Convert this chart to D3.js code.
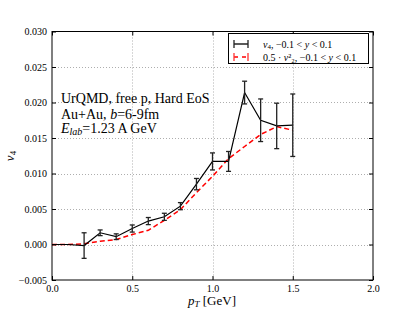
<!DOCTYPE html>
<html><head><meta charset="utf-8">
<script src="https://cdn.jsdelivr.net/npm/d3@7"></script>
<style>body{margin:0;background:#fff}svg{display:block}text{font-family:"Liberation Serif","DejaVu Serif",serif}</style>
</head><body><svg id="c" width="415" height="312"></svg>
<script>
const pt = [0.0,0.1,0.2,0.3,0.4,0.5,0.6,0.7,0.8,0.9,1.0,1.1,1.2,1.3,1.4,1.5];
const v4 = [0,0,-0.00015,0.00165,0.0011,0.00225,0.0033,0.0039,0.0054,0.0085,0.0117,0.0117,0.0214,0.0175,0.0167,0.0168];
const v4err = [0,0,0.0018,0.0004,0.0004,0.0005,0.0005,0.0005,0.0005,0.0008,0.0012,0.0014,0.0016,0.003,0.0032,0.0044];
const v2sq = [0,0,0.0001,0.00045,0.0007,0.0014,0.002,0.0034,0.0049,0.0073,0.0096,0.0121,0.0138,0.0155,0.0166,0.0161];
const xTicks = [0,0.5,1.0,1.5,2.0];
const yTicks = [-0.005,0,0.005,0.010,0.015,0.020,0.025,0.030];
const infoLines = ["UrQMD, free p, Hard EoS"];

const svg = d3.select("#c");
const L=52,R=373,T=31.5,B=280;
const x = d3.scaleLinear().domain([0,2]).range([L,R]);
const y = d3.scaleLinear().domain([-0.005,0.030]).range([B,T]);

// grid
const g = svg.append("g");
g.selectAll(".gx").data(xTicks.slice(1,-1)).join("line")
  .attr("x1",d=>Math.round(x(d))+0.5).attr("x2",d=>Math.round(x(d))+0.5).attr("y1",T).attr("y2",B)
  .attr("stroke","#999").attr("stroke-width",0.8).attr("stroke-dasharray","1,2");
g.selectAll(".gy").data(yTicks.slice(1,-1)).join("line")
  .attr("y1",d=>Math.round(y(d))+0.5).attr("y2",d=>Math.round(y(d))+0.5).attr("x1",L).attr("x2",R)
  .attr("stroke","#999").attr("stroke-width",0.8).attr("stroke-dasharray","1,2");

// axes via d3
const fmt = d=> (d<0?"\u2212":"")+Math.abs(d).toFixed(3);
const ax = svg.append("g").attr("transform",`translate(0,${B})`)
  .call(d3.axisBottom(x).tickValues(xTicks).tickFormat(d=>d.toFixed(1)).tickSize(-4).tickPadding(5));
const ay = svg.append("g").attr("transform",`translate(${L},0)`)
  .call(d3.axisLeft(y).tickValues(yTicks).tickFormat(fmt).tickSize(-4).tickPadding(5));
const axT = svg.append("g").attr("transform",`translate(0,${T})`)
  .call(d3.axisTop(x).tickValues(xTicks).tickFormat("").tickSize(-4));
const ayR = svg.append("g").attr("transform",`translate(${R},0)`)
  .call(d3.axisRight(y).tickValues(yTicks).tickFormat("").tickSize(-4));
[ax,ay,axT,ayR].forEach(a=>{a.select(".domain").remove();
  a.selectAll("text").attr("font-family","Liberation Serif, serif").attr("font-size",10).attr("fill","#000");
  a.selectAll("line").attr("stroke","#000");});
svg.append("rect").attr("x",L).attr("y",T).attr("width",R-L).attr("height",B-T)
  .attr("fill","none").attr("stroke","#000").attr("stroke-width",1);

// red dashed
svg.append("path").datum(pt.map((p,i)=>[p,v2sq[i]]))
  .attr("d",d3.line().x(d=>x(d[0])).y(d=>y(d[1])))
  .attr("fill","none").attr("stroke","#ff0000").attr("stroke-width",1.5).attr("stroke-dasharray","5,3");

// black line
svg.append("path").datum(pt.map((p,i)=>[p,v4[i]]))
  .attr("d",d3.line().x(d=>x(d[0])).y(d=>y(d[1])))
  .attr("fill","none").attr("stroke","#000").attr("stroke-width",1.2);
// error bars
const eb = svg.append("g").attr("stroke","#222").attr("stroke-width",1.3);
pt.forEach((p,i)=>{ if(!v4err[i]) return;
  const cx=x(p), y1=y(v4[i]+v4err[i]), y2=y(v4[i]-v4err[i]);
  eb.append("line").attr("x1",cx).attr("x2",cx).attr("y1",y1).attr("y2",y2);
  eb.append("line").attr("x1",cx-2.5).attr("x2",cx+2.5).attr("y1",y1).attr("y2",y1);
  eb.append("line").attr("x1",cx-2.5).attr("x2",cx+2.5).attr("y1",y2).attr("y2",y2);
});

// info text
const info = svg.append("text").attr("font-size",14).attr("fill","#000");
info.append("tspan").attr("x",61).attr("y",103).text(infoLines[0]);
const t2 = svg.append("text").attr("font-size",14).attr("x",61).attr("y",118.5);
t2.append("tspan").text("Au+Au, ");
t2.append("tspan").attr("font-style","italic").text("b");
t2.append("tspan").text("=6-9fm");
const t3 = svg.append("text").attr("font-size",14).attr("x",61).attr("y",133);
t3.append("tspan").attr("font-style","italic").text("E");
t3.append("tspan").attr("font-style","italic").attr("font-size",10).attr("dy",2).text("lab");
t3.append("tspan").attr("dy",-2).text("=1.23 A GeV");

// axis labels
const xl = svg.append("text").attr("x",212).attr("y",305).attr("text-anchor","middle").attr("font-size",13);
xl.append("tspan").attr("font-style","italic").text("p");
xl.append("tspan").attr("font-style","italic").attr("font-size",9).attr("dy",2).text("T");
xl.append("tspan").attr("dy",-2).text(" [GeV]");
const yl = svg.append("text").attr("transform","translate(14,156) rotate(-90)").attr("text-anchor","middle").attr("font-size",13);
yl.append("tspan").attr("font-style","italic").text("v");
yl.append("tspan").attr("font-size",9).attr("dy",2).text("4");

// legend
const lg = svg.append("g");
lg.append("rect").attr("x",228.5).attr("y",33.5).attr("width",140).attr("height",30)
  .attr("fill","#fff").attr("stroke","#000").attr("stroke-width",1);
const hx1=234, hx2=248;
const r1=44, r2=57;
lg.append("line").attr("x1",hx1).attr("x2",hx2).attr("y1",r1).attr("y2",r1).attr("stroke","#000").attr("stroke-width",1.3);
[hx1,hx2].forEach(h=>lg.append("line").attr("x1",h).attr("x2",h).attr("y1",r1-4).attr("y2",r1+4).attr("stroke","#222").attr("stroke-width",1.3));
lg.append("line").attr("x1",hx1).attr("x2",hx2).attr("y1",r2).attr("y2",r2).attr("stroke","#ff0000").attr("stroke-width",1.5).attr("stroke-dasharray","4,4");
[hx1,hx2].forEach(h=>lg.append("line").attr("x1",h).attr("x2",h).attr("y1",r2-4).attr("y2",r2+4).attr("stroke","#ff3333").attr("stroke-width",1.3));
const l1 = lg.append("text").attr("x",263).attr("y",r1+3.5).attr("font-size",10);
l1.append("tspan").attr("font-style","italic").text("v");
l1.append("tspan").attr("font-size",7).attr("dy",1.5).text("4");
l1.append("tspan").attr("dy",-1.5).text(", \u22120.1 < ");
l1.append("tspan").attr("font-style","italic").text("y");
l1.append("tspan").text(" < 0.1");
const l2 = lg.append("text").attr("x",263).attr("y",r2+3.5).attr("font-size",10);
l2.append("tspan").text("0.5 \u00b7 ");
l2.append("tspan").attr("font-style","italic").text("v");
l2.append("tspan").attr("font-size",10).text("\u00b2\u2082");
l2.append("tspan").text(", \u22120.1 < ");
l2.append("tspan").attr("font-style","italic").text("y");
l2.append("tspan").text(" < 0.1");
</script></body></html>
